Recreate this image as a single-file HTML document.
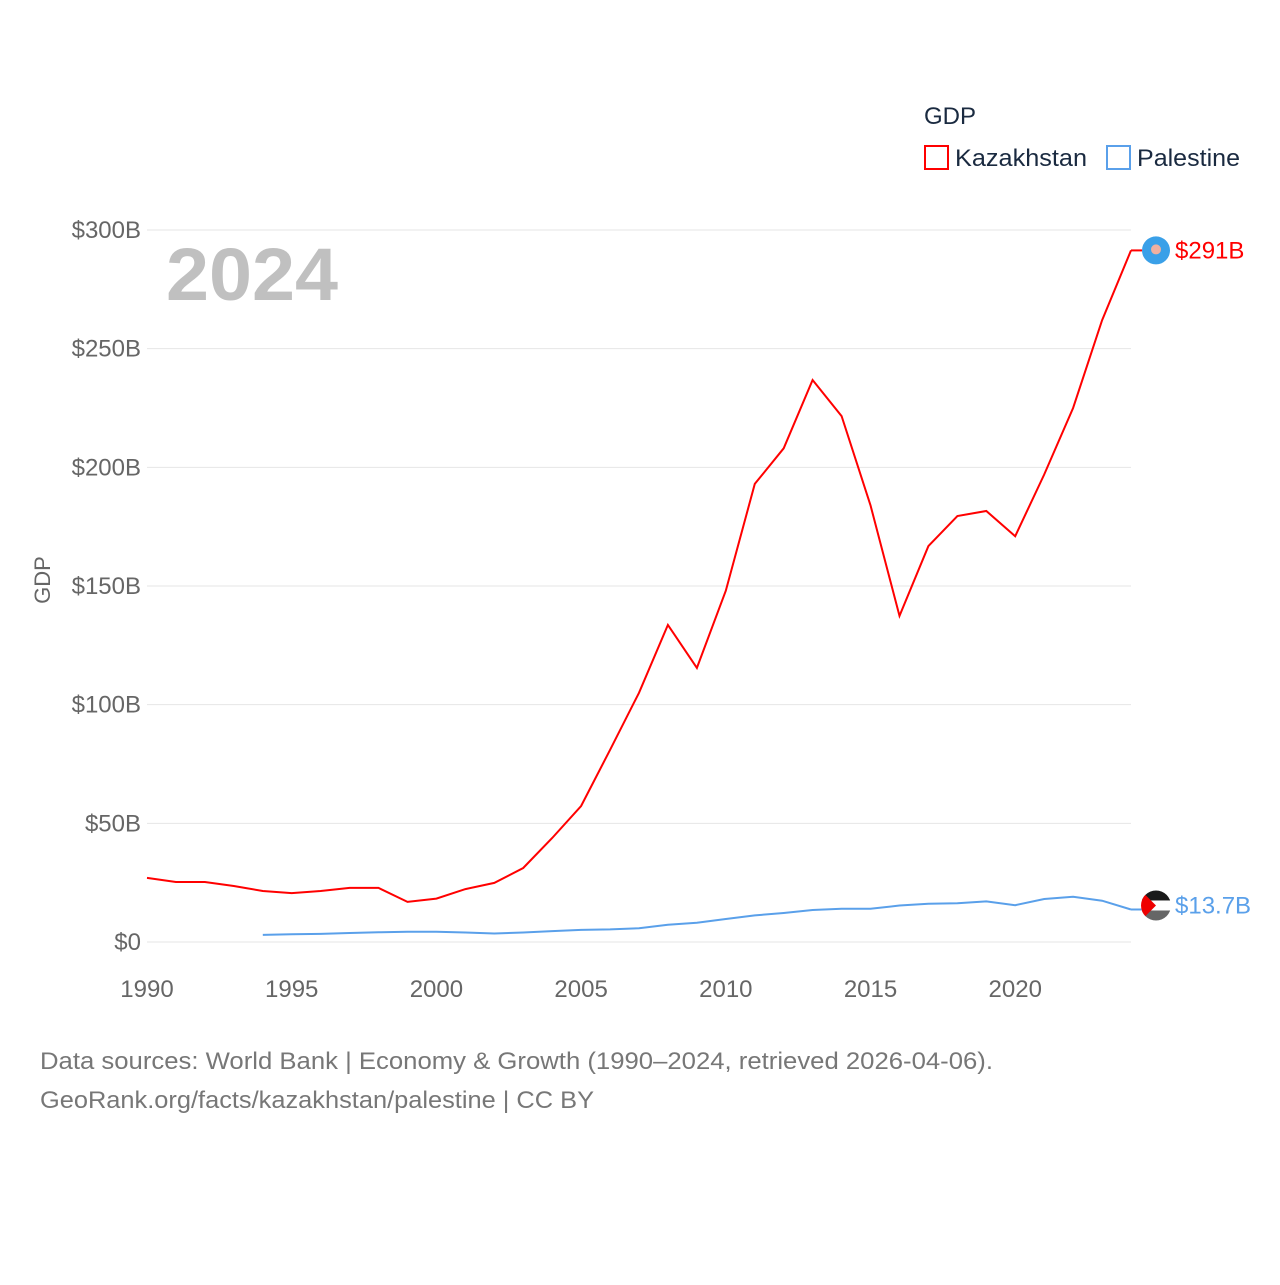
<!DOCTYPE html>
<html><head><meta charset="utf-8"><style>
body{margin:0;background:#fff;width:1280px;height:1280px;overflow:hidden;font-family:"Liberation Sans",sans-serif}
</style></head><body>
<svg id="chart" width="1280" height="1280" xmlns="http://www.w3.org/2000/svg" font-family="Liberation Sans, sans-serif">
<g id="grid"></g>
<g id="yticks"></g>
<g id="xticks"></g>
<text x="166" y="300" font-size="74" font-weight="bold" fill="#c0c0c0" textLength="172" lengthAdjust="spacingAndGlyphs">2024</text>
<text transform="translate(50,580) rotate(-90)" text-anchor="middle" font-size="22" fill="#666">GDP</text>
<g id="series"></g>
<g>
<text x="924" y="124" font-size="24" fill="#1a2a40">GDP</text>
<rect x="925" y="146" width="23" height="23" fill="none" stroke="#f00" stroke-width="2"/>
<text x="955" y="166" font-size="24" fill="#1a2a40" textLength="132" lengthAdjust="spacingAndGlyphs">Kazakhstan</text>
<rect x="1107" y="146" width="23" height="23" fill="none" stroke="#5aa0ea" stroke-width="2"/>
<text x="1137" y="166" font-size="24" fill="#1a2a40" textLength="103" lengthAdjust="spacingAndGlyphs">Palestine</text>
</g>
<text x="40" y="1069" font-size="24" fill="#777" textLength="953" lengthAdjust="spacingAndGlyphs">Data sources: World Bank | Economy &amp; Growth (1990–2024, retrieved 2026-04-06).</text>
<text x="40" y="1108" font-size="24" fill="#777" textLength="554" lengthAdjust="spacingAndGlyphs">GeoRank.org/facts/kazakhstan/palestine | CC BY</text>
</svg>
<script>
const years=[1990,1991,1992,1993,1994,1995,1996,1997,1998,1999,2000,2001,2002,2003,2004,2005,2006,2007,2008,2009,2010,2011,2012,2013,2014,2015,2016,2017,2018,2019,2020,2021,2022,2023,2024];
const kazakhstan=[27.0,25.3,25.3,23.6,21.5,20.6,21.5,22.8,22.8,16.9,18.3,22.3,24.9,31.2,43.8,57.3,81,105,133.6,115.5,148,193,208,236.8,221.6,184,137.4,166.8,179.5,181.6,171,197,225,262,291.4];
const palestineYears=[1994,1995,1996,1997,1998,1999,2000,2001,2002,2003,2004,2005,2006,2007,2008,2009,2010,2011,2012,2013,2014,2015,2016,2017,2018,2019,2020,2021,2022,2023,2024];
const palestine=[3.0,3.3,3.4,3.8,4.1,4.3,4.3,4.0,3.6,4.0,4.6,5.1,5.3,5.8,7.3,8.1,9.7,11.2,12.2,13.5,14.0,14.0,15.4,16.1,16.3,17.1,15.5,18.1,19.1,17.4,13.7];
const yTicks=[0,50,100,150,200,250,300];
const yTickLabels=["$0","$50B","$100B","$150B","$200B","$250B","$300B"];
const xTicks=[1990,1995,2000,2005,2010,2015,2020];
const NS="http://www.w3.org/2000/svg";
const X=y=>147+(y-1990)*(1131-147)/34;
const Y=v=>942-v*(942-230)/300;
function mk(tag,attrs,parent){const e=document.createElementNS(NS,tag);for(const k in attrs)e.setAttribute(k,attrs[k]);parent.appendChild(e);return e;}
const grid=document.getElementById('grid'),yt=document.getElementById('yticks'),xt=document.getElementById('xticks'),ser=document.getElementById('series');
yTicks.forEach((v,i)=>{
 const l=mk('line',{x1:147,x2:1131,y1:Y(v),y2:Y(v),stroke:'#e6e6e6','stroke-width':1},grid);
 
 
 const t=mk('text',{x:141,y:Y(v)+8,'text-anchor':'end','font-size':24,fill:'#666'},yt);
 t.textContent=yTickLabels[i];
 
 
});
xTicks.forEach(v=>{
 const t=mk('text',{x:X(v),y:997,'text-anchor':'middle','font-size':24,fill:'#666'},xt);
 t.textContent=v;
 
 
});
function line(xs,vs,color,name){
 const d=xs.map((y,i)=>(i?'L':'M')+X(y).toFixed(1)+','+Y(vs[i]).toFixed(1)).join(' ');
 const p=mk('path',{d:d,fill:'none',stroke:color,'stroke-width':2},ser);
 
 
}
line(years,kazakhstan,'#f00','kazakhstan-line');
line(palestineYears,palestine,'#5aa0ea','palestine-line');
const kv=kazakhstan[kazakhstan.length-1],pv=palestine[palestine.length-1];
const kl=mk('line',{x1:X(2024),x2:1142,y1:Y(kv),y2:Y(kv),stroke:'#f00','stroke-width':2},ser);


const kf=mk('circle',{cx:1156,cy:Y(kv),r:14,fill:'#3aa0e8'},ser);


const ks=mk('circle',{cx:1156,cy:Y(kv)-1,r:5,fill:'#f0b0a0'},ser);


const kt=mk('text',{x:1175,y:Y(kv)+8,'font-size':24,fill:'#f00'},ser);
kt.textContent='$'+Math.round(kv)+'B';


const pl=mk('line',{x1:X(2024),x2:1142,y1:Y(pv),y2:Y(pv),stroke:'#5aa0ea','stroke-width':2},ser);


const py=Y(pv)-4;
const pg=mk('g',{},ser);


const cp=mk('clipPath',{id:'pc'},pg);mk('circle',{cx:1156,cy:py,r:15},cp);
const gg=mk('g',{'clip-path':'url(#pc)'},pg);
mk('rect',{x:1141,y:py-15,width:30,height:10,fill:'#1a1a1a'},gg);
mk('rect',{x:1141,y:py-5,width:30,height:10,fill:'#fff'},gg);
mk('rect',{x:1141,y:py+5,width:30,height:10,fill:'#666'},gg);
mk('polygon',{points:`1141,${py-15} 1156,${py} 1141,${py+15}`,fill:'#e00'},gg);
const pt=mk('text',{x:1175,y:py+8,'font-size':24,fill:'#5aa0ea'},ser);
pt.textContent='$'+pv+'B';


</script>
</body></html>
